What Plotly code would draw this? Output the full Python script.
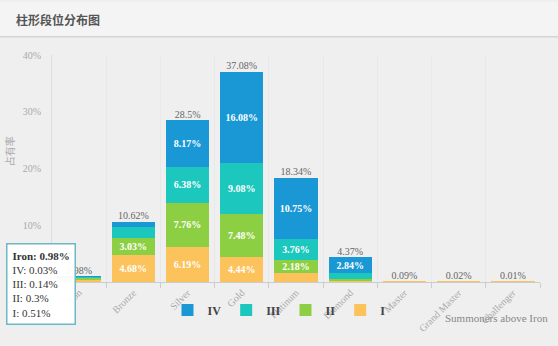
import plotly.graph_objects as go

categories = ["Iron", "Bronze", "Silver", "Gold", "Platinum", "Diamond", "Master", "Grand Master", "Challenger"]
tier_I = [0.51, 4.68, 6.19, 4.44, 1.65, 0.18, 0.09, 0.02, 0.01]
tier_II = [0.30, 3.03, 7.76, 7.48, 2.18, 0.35, 0, 0, 0]
tier_III = [0.14, 1.93, 6.38, 9.08, 3.76, 1.00, 0, 0, 0]
tier_IV = [0.03, 0.98, 8.17, 16.08, 10.75, 2.84, 0, 0, 0]
totals = [0.98, 10.62, 28.5, 37.08, 18.34, 4.37, 0.09, 0.02, 0.01]
y_ticks = [10, 20, 30, 40]
series = [("I", tier_I, "#fcc25c"), ("II", tier_II, "#8ccf43"),
          ("III", tier_III, "#1cc7bd"), ("IV", tier_IV, "#1a97d5")]

W, H = 558, 346
L, R, T, B = 52, 18, 55, 55
pw, ph = W - L - R, H - T - B

def px(x):
    return (x - L) / pw

def py(y):
    return (H - B - y) / ph

SERIF = "Liberation Serif, Times New Roman, serif"

fig = go.Figure()
for name, vals, color in series:
    labels = [f"{v:g}%" if v >= 2 else "" for v in vals]
    fig.add_trace(go.Bar(
        x=categories, y=vals, name=name, marker=dict(color=color, line=dict(width=0)),
        text=labels, textposition="inside", insidetextanchor="middle",
        textfont=dict(family=SERIF, size=10, color="white", weight="bold"),
        textangle=0, hoverinfo="skip", constraintext="none",
    ))

fig.add_trace(go.Scatter(
    x=categories, y=totals, mode="text", text=[f"{t:g}%" for t in totals],
    textposition="top center", textfont=dict(family=SERIF, size=10, color="#666666"),
    showlegend=False, hoverinfo="skip", cliponaxis=False,
))

fig.update_layout(
    width=W, height=H, margin=dict(l=L, r=R, t=T, b=B),
    paper_bgcolor="#efefef", plot_bgcolor="#efefef",
    barmode="stack", bargap=0.2,
    showlegend=True,
    legend=dict(orientation="h", traceorder="reversed", x=px(279), xanchor="center",
                y=py(320), yanchor="middle", bgcolor="rgba(0,0,0,0)",
                font=dict(family=SERIF, size=12, color="#444444", weight="bold"),
                itemwidth=30, tracegroupgap=0, itemclick=False),
    xaxis=dict(type="category", tickson="boundaries", showgrid=True, gridcolor="#e8e8e8",
               showline=True, linecolor="#cccccc", ticks="outside", ticklen=5, tickcolor="#cccccc",
               tickangle=-45, tickfont=dict(family=SERIF, size=10, color="#aaaaaa"),
               range=[-0.5, 8.5]),
    yaxis=dict(range=[0, 40], tickvals=y_ticks, ticktext=[f"{v}%" for v in y_ticks],
               showgrid=False, zeroline=False, ticklabelstandoff=8,
               showline=True, linecolor="#dddddd",
               tickfont=dict(family=SERIF, size=10, color="#aaaaaa")),
)

# title area
fig.add_shape(type="rect", xref="paper", yref="paper", x0=px(0), x1=px(W), y0=py(36), y1=py(0),
              fillcolor="#f4f4f4", line=dict(width=0), layer="below")
fig.add_shape(type="line", xref="paper", yref="paper", x0=px(0), x1=px(W), y0=py(36), y1=py(36),
              line=dict(color="#d4d4d4", width=1.5))
fig.add_annotation(text="<b>柱形段位分布图</b>", xref="paper", yref="paper", x=px(14), y=py(18),
                   xanchor="left", yanchor="middle", showarrow=False,
                   font=dict(family="Noto Sans CJK SC", size=12, color="#555555"))
fig.add_annotation(text="占有率", xref="paper", yref="paper", x=px(9), y=py(155), textangle=-90,
                   xanchor="center", yanchor="middle", showarrow=False,
                   font=dict(family="Noto Sans CJK SC", size=10, color="#aaaaaa"))
fig.add_annotation(text="Summoners above Iron", xref="paper", yref="paper", x=px(550), y=py(328),
                   xanchor="right", yanchor="middle", showarrow=False,
                   font=dict(family=SERIF, size=11, color="#888888"))
# tooltip
fig.add_annotation(text="<b>Iron: 0.98%</b><br>IV: 0.03%<br>III: 0.14%<br>II: 0.3%<br>I: 0.51%",
                   xref="paper", yref="paper", x=px(6), y=py(250), xanchor="left", yanchor="top",
                   align="left", showarrow=False, bgcolor="rgba(255,255,255,0.95)",
                   bordercolor="#6cb8c6", borderwidth=1.5, borderpad=5,
                   font=dict(family=SERIF, size=11, color="#333333"))

fig.write_html("out.html")
